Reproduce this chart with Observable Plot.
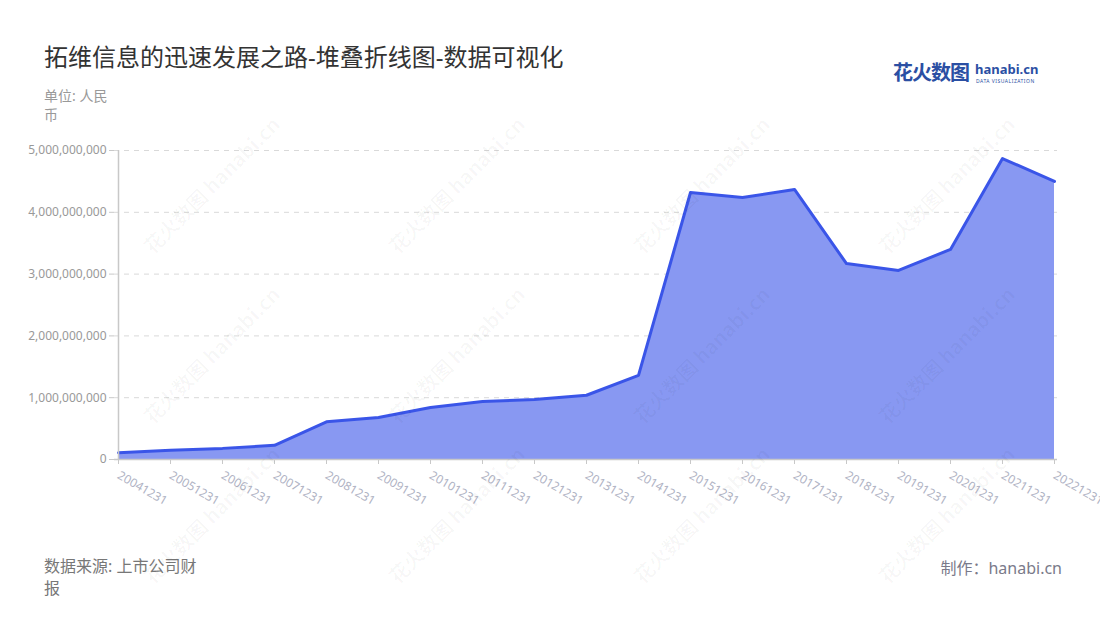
<!DOCTYPE html>
<html>
<head>
<meta charset="utf-8">
<script src="https://cdn.jsdelivr.net/npm/d3@7"></script>
<script src="https://cdn.jsdelivr.net/npm/@observablehq/plot@0.6"></script>
<style>
  html, body { margin: 0; padding: 0; background: #fff; }
  #wrap { position: relative; width: 1100px; height: 620px; overflow: hidden;
    font-family: "Noto Sans", "Noto Sans CJK SC", sans-serif; }
  .abs { position: absolute; white-space: nowrap; }
  #title { left: 44px; top: 38px; font-size: 24px; color: #333; }
  #unit { left: 44px; top: 86px; font-size: 14px; color: #999; line-height: 19px; white-space: normal; width: 68px; }
  #source { left: 44px; top: 555px; font-size: 16px; color: #777; line-height: 22px; white-space: normal; width: 158px; }
  #credit { right: 38px; top: 555px; font-size: 16px; color: #7a7a8a; }
  #logo { left: 893px; top: 57px; }
  #logo .cn { font-size: 20px; font-weight: bold; color: #2b4fa3; letter-spacing: -1px; font-family: "Noto Sans CJK SC", sans-serif; }
  #logo .en { position: absolute; left: 82px; top: 3px; font-size: 13px; font-weight: bold; color: #2b4fa3; font-family: "Noto Sans", sans-serif; }
  #logo .sub { position: absolute; left: 83px; top: 21px; font-size: 5px; color: #2b4fa3; letter-spacing: 0.5px; font-family: "Noto Sans", sans-serif; }
  #chart { position: absolute; left: 0; top: 130px; }
  .wm { position: absolute; font-size: 20px; font-weight: bold; color: rgba(0,0,0,0.03); transform: rotate(-45deg); font-family: "Noto Sans CJK SC", sans-serif; pointer-events: none; }
</style>
</head>
<body>
<div id="wrap">
  <div id="title" class="abs">拓维信息的迅速发展之路-堆叠折线图-数据可视化</div>
  <div id="unit" class="abs">单位: 人民币</div>
  <div id="logo" class="abs"><span class="cn">花火数图</span><span class="en">hanabi.cn</span><span class="sub">DATA VISUALIZATION</span></div>
  <div id="chart"></div>
  <div id="source" class="abs">数据来源: 上市公司财报</div>
  <div id="credit" class="abs">制作：hanabi.cn</div>
</div>
<script>
const years = ["20041231","20051231","20061231","20071231","20081231","20091231","20101231","20111231","20121231","20131231","20141231","20151231","20161231","20171231","20181231","20191231","20201231","20211231","20221231"];
const revenue = [0.11e9,0.15e9,0.18e9,0.23e9,0.61e9,0.68e9,0.84e9,0.94e9,0.97e9,1.04e9,1.36e9,4.32e9,4.24e9,4.37e9,3.17e9,3.06e9,3.40e9,4.87e9,4.50e9];
const yTicks = [0,1e9,2e9,3e9,4e9,5e9];

const data = years.map((d, i) => ({year: d, value: revenue[i]}));

const plot = Plot.plot({
  width: 1100,
  height: 390,
  marginLeft: 114,
  marginRight: 43,
  marginTop: 20,
  marginBottom: 61,
  style: {fontFamily: "'Noto Sans', 'Noto Sans CJK SC', sans-serif", fontSize: "12px", background: "transparent", overflow: "visible"},
  x: {type: "point", domain: years, padding: 0},
  y: {domain: [0, 5e9]},
  marks: [
    Plot.gridY(yTicks.filter(d => d > 0), {stroke: "#d9d9d9", strokeOpacity: 1, strokeDasharray: "5,5"}),
    Plot.areaY(data, {x: "year", y: "value", fill: "#8898f2", fillOpacity: 1}),
    Plot.lineY(data, {x: "year", y: "value", stroke: "#3a55e8", strokeWidth: 3, strokeLinejoin: "round"}),
    Plot.ruleX([years[0]], {stroke: "#c8c8c8", strokeWidth: 1.5}),
    Plot.ruleY([0], {stroke: "#c8c8c8", strokeWidth: 1.5}),
    Plot.axisY({ticks: yTicks, tickFormat: d3.format(","), tickSize: 5, tickPadding: 3, stroke: "#c8c8c8", color: "#999", label: null, fontSize: 12}),
    Plot.axisX({tickSize: 5, tickPadding: 10, tickRotate: 30, stroke: "#c8c8c8", color: "#b0b3c4", label: null, fontSize: 12})
  ]
});
document.getElementById("chart").appendChild(plot);

// faint watermarks
const wrap = document.getElementById("wrap");
const wmX = [120, 365, 610, 855];
const wmY = [150, 320, 480];
wmY.forEach(y => wmX.forEach(x => {
  const el = document.createElement("div");
  el.className = "wm";
  el.textContent = "花火数图 hanabi.cn";
  el.style.left = x + "px";
  el.style.top = (y + 20) + "px";
  wrap.appendChild(el);
}));
</script>
</body>
</html>
